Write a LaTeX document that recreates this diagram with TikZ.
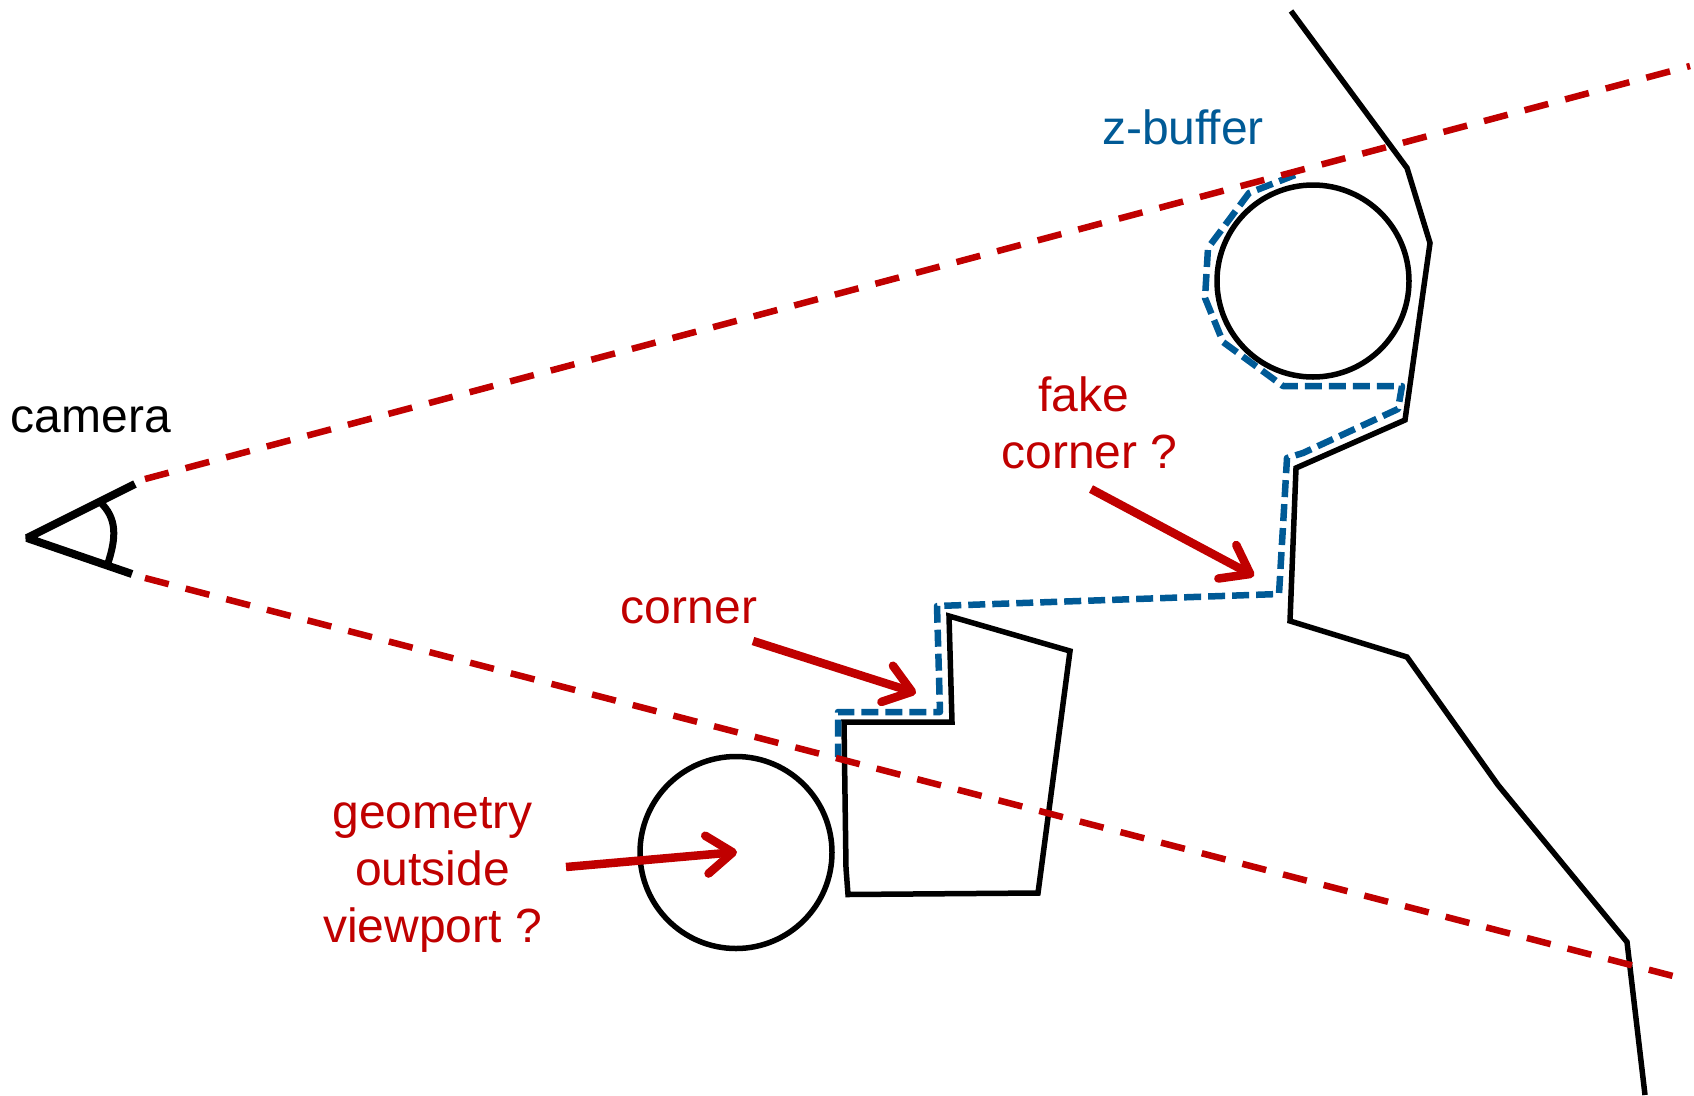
\documentclass[tikz,border=0pt]{standalone}
\usepackage{fontspec}
\setmainfont{Liberation Sans}
\usetikzlibrary{arrows.meta}
\definecolor{cred}{HTML}{C00000}
\definecolor{cblue}{HTML}{005A96}
\tikzset{
  solidline/.style={draw=black,line width=5.5pt,line join=miter},
  redray/.style={draw=cred,line width=6.5pt,dash pattern=on 24.5pt off 17.5pt},
  bufferline/.style={draw=cblue,line width=6.5pt,dash pattern=on 17pt off 7pt,line join=round},
  campart/.style={draw=black,line width=8pt},
  callout/.style={draw=cred,line width=8.5pt,-{Straight Barb[length=26pt,width=38pt,round]}},
  lbl/.style={font=\fontsize{48}{57}\selectfont,align=center,inner sep=0pt},
}
\begin{document}
\begin{tikzpicture}[x=1pt,y=-1pt]
\useasboundingbox (0,0) rectangle (1694,1095);
% rays
\coordinate (ru0) at (145,479); \coordinate (ru1) at (1690,66);
\coordinate (rl0) at (145,578); \coordinate (rl1) at (1673,976);
% outer wall
\draw[solidline] (1291,11) -- (1407,168) -- (1430,243) -- (1405,420) -- (1296,468) -- (1290,621) -- (1407,657) -- (1498,785) -- (1627,942) -- (1645,1095);
% circles
\node[solidline,circle,minimum size=192pt,inner sep=0pt] (c1) at (1313,281) {};
\node[solidline,circle,minimum size=192pt,inner sep=0pt] (c2) at (736,852.5) {};
% polygon
\draw[solidline] (949,616) -- (1070,651) -- (1038,893) -- (848,894.5) -- (846,868) -- (844,722) -- (952,722) -- cycle;
% z-buffer
\draw[bufferline] (1295,175) -- (1249,193) -- (1208,248) -- (1205,298) -- (1223,342) -- (1283,386) -- (1402,386) -- (1398,409) -- (1303,453) -- (1287,458) -- (1279,594) -- (937,606) -- (940,712) -- (838,712) -- (838,757);
% rays on top
\draw[redray] (ru0) -- (ru1);
\draw[redray] (rl0) -- (rl1);
% camera
\coordinate (apex) at (27,538);
\coordinate (camu) at (135,484);
\coordinate (caml) at (132,574);
\draw[campart,line join=bevel] (camu) -- (apex) -- (caml);
\coordinate (arcu) at (100,502);
\coordinate (arcl) at (107,566);
\draw[draw=black,line width=7pt] (arcu) .. controls (117,518) and (117,537) .. (arcl);
% callouts
\coordinate (a1s) at (1091,489); \coordinate (a1e) at (1254,576);
\coordinate (a2s) at (753,641); \coordinate (a2e) at (916,693);
\coordinate (a3s) at (566,867); \coordinate (a3e) at (737,852);
\draw[callout] (a1s) -- (a1e);
\draw[callout] (a2s) -- (a2e);
\draw[callout] (a3s) -- (a3e);
% labels
\node[lbl,text=black] (lcam) at (91,420) {camera};
\node[lbl,text=cblue] (lz) at (1183,127) {z-buffer};
\node[lbl,text=cred] (lfake) at (1089.5,423) {fake\kern 11pt\\corner ?};
\node[lbl,text=cred] (lcorner) at (689,611) {corner};
\node[lbl,text=cred] (lgeo) at (432.5,874.5) {geometry\\outside\\viewport ?};
\end{tikzpicture}
\end{document}
